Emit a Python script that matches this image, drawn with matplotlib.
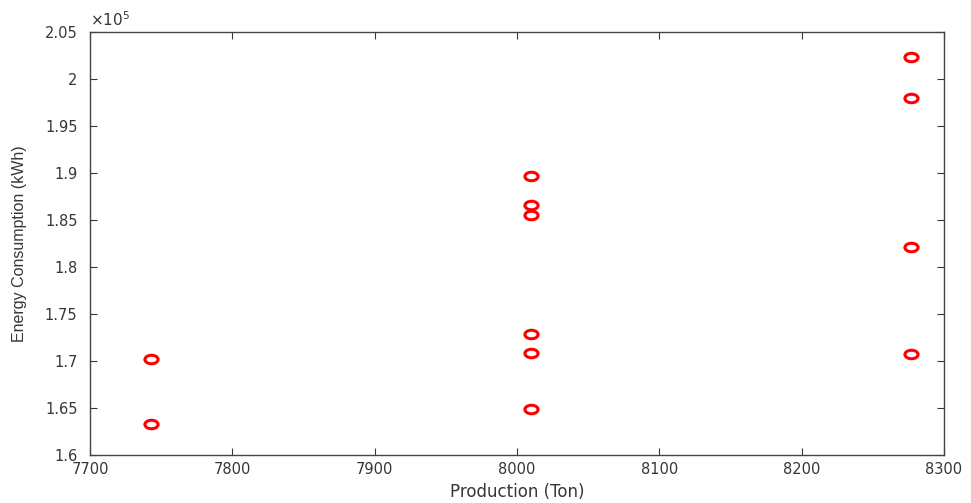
import numpy as np
import matplotlib
matplotlib.use("Agg")
import matplotlib.pyplot as plt
from matplotlib.path import Path
from matplotlib.transforms import Affine2D
from matplotlib.ticker import FuncFormatter

# data
production = [7743, 7743,
              8010, 8010, 8010, 8010, 8010, 8010,
              8277, 8277, 8277, 8277]
energy = [170200, 163300,
          189700, 186600, 185500, 172900, 170900, 164900,
          202400, 198000, 182100, 170800]
x_ticks = [7700, 7800, 7900, 8000, 8100, 8200, 8300]
y_ticks = [160000, 165000, 170000, 175000, 180000, 185000, 190000, 195000, 200000, 205000]

plt.rcParams['font.family'] = ['DejaVu Sans']
gray = '#363636'

fig = plt.figure(figsize=(9.71, 5.03), dpi=100)
ax = fig.add_axes([0.0927, 0.0954, 0.8795, 0.8406])

# squashed circle marker, like the stretched original
ell = Affine2D().scale(1.55, 1.0).transform_path(Path.unit_circle())
ax.plot(production, energy, linestyle='none', marker=ell, markersize=9.5,
        markerfacecolor='none', markeredgecolor='red', markeredgewidth=2.2)

ax.set_xlim(7700, 8300)
ax.set_ylim(160000, 205000)
ax.set_xticks(x_ticks)
ax.set_yticks(y_ticks)
ax.yaxis.set_major_formatter(FuncFormatter(lambda v, p: '%g' % round(v / 1e5, 4)))

ax.tick_params(direction='in', length=5, width=0.8, colors=gray, labelsize=10.5,
               top=True, right=True)
ax.tick_params(axis='y', pad=9)
ax.tick_params(axis='x', pad=5)
for s in ax.spines.values():
    s.set_color('#444444')
    s.set_linewidth(1.0)

ax.set_xlabel('Production (Ton)', fontsize=12, color=gray, labelpad=4)
ax.set_ylabel('Energy Consumption (kWh)', fontsize=11.5, color=gray, labelpad=13,
              family='Liberation Sans')
ax.text(0.0, 1.008, r'$\times\mathregular{10^5}$', transform=ax.transAxes,
        fontsize=11, color=gray, ha='left', va='bottom')

fig.savefig('out.png', dpi=100)
